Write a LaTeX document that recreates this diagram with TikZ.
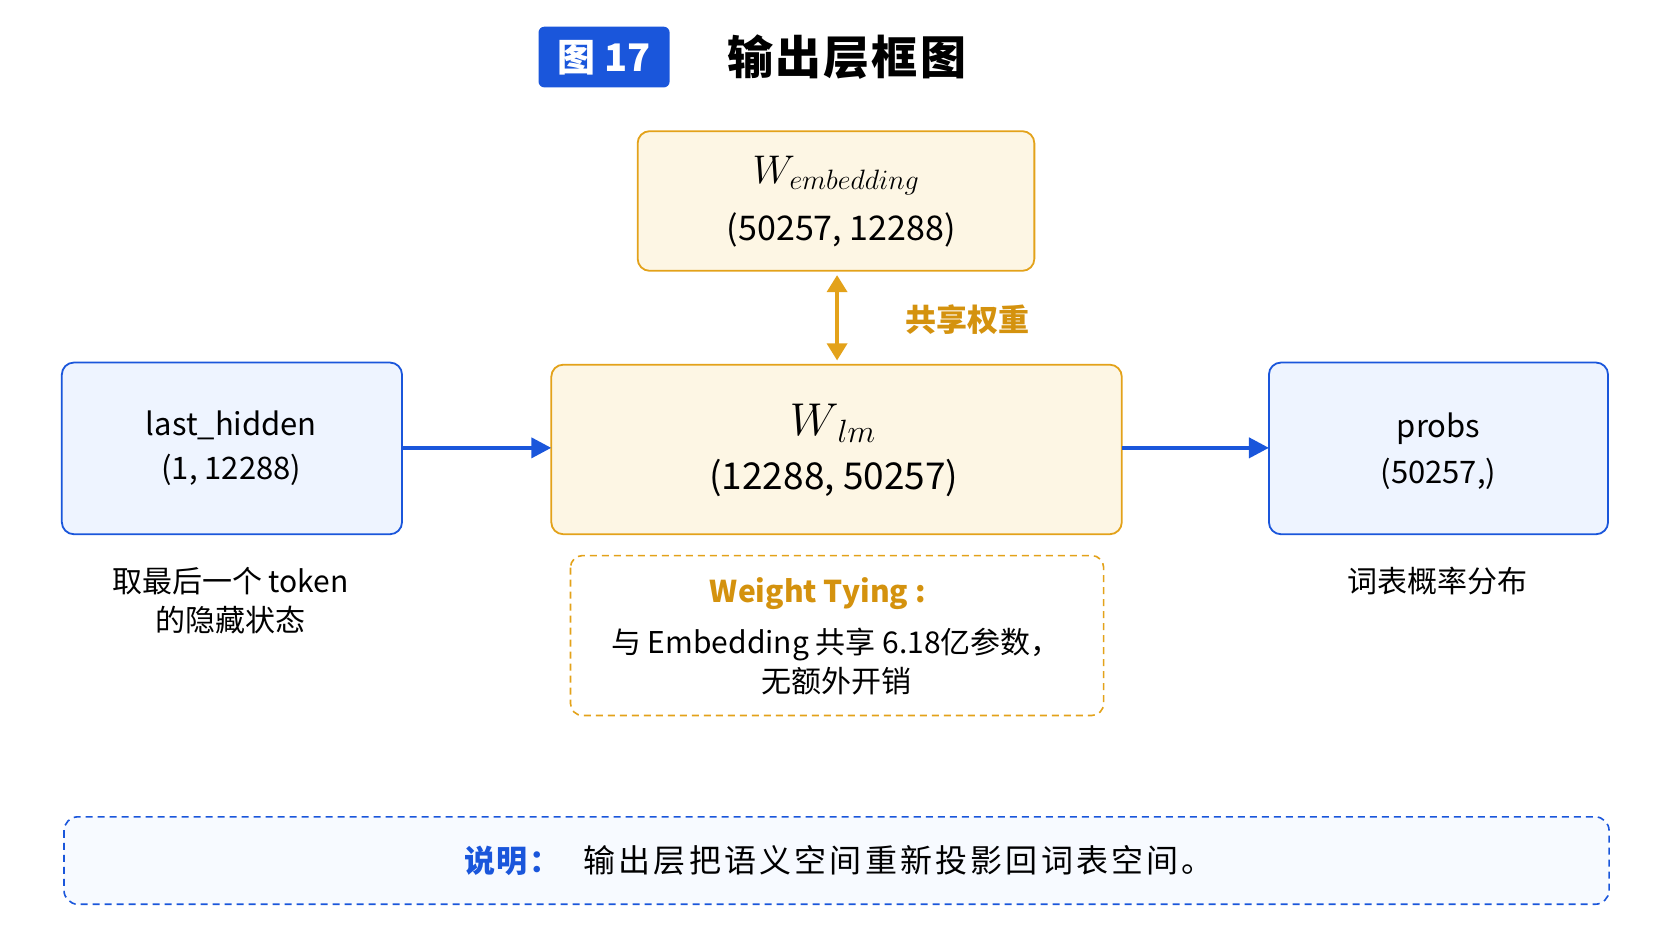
\RequirePackage{fix-cm}
\documentclass[tikz,border=0pt]{standalone}
\usepackage{fontspec}
\setmainfont{Noto Sans CJK SC}
\usetikzlibrary{arrows.meta}
\definecolor{bl}{HTML}{1A56DB}
\definecolor{blf}{HTML}{EEF4FF}
\definecolor{og}{HTML}{E3A21A}
\definecolor{ogt}{HTML}{D4920E}
\definecolor{ogf}{HTML}{FDF6E4}
\definecolor{bbf}{HTML}{F7FAFF}
\begin{document}
\begin{tikzpicture}[x=1.0663pt,y=-1.0663pt,
  bbox/.style={draw=bl,line width=1.8pt,fill=blf,rounded corners=12pt},
  obox/.style={draw=og,line width=1.8pt,fill=ogf,rounded corners=12pt},
  arr/.style={-{Triangle[length=20pt,width=20pt]},draw=bl,line width=4pt},
  t/.style={font=\fontsize{31}{40}\selectfont,align=center,inner sep=0}]
\useasboundingbox (0,0) rectangle (1568,882.5);
% title
\fill[bl,rounded corners=6pt] (505,25) rectangle (628,82);
\node[t,text=white,font=\fontsize{38}{40}\selectfont\bfseries] (badge) at (566.5,54) {图 17};
\node[t,font=\fontsize{46}{50}\selectfont\bfseries\addfontfeature{LetterSpace=5}] (title) at (794,54) {输出层框图};
% boxes
\draw[obox] (598,123) rectangle (970,254);
\coordinate (embT) at (784,254);
\node[t,font=\fontsize{40}{40}\selectfont] (emb1) at (784,165) {$W_{embedding}$};
\node[t,font=\fontsize{34}{40}\selectfont] (emb2) at (789,216) {(50257, 12288)};
\draw[obox] (517,342) rectangle (1052,501);
\coordinate (lmL) at (517,420); \coordinate (lmR) at (1052,420); \coordinate (lmT) at (784,342);
\node[t,font=\fontsize{46}{48}\selectfont] (lm1) at (781,397) {$W_{\,lm}$};
\node[t,font=\fontsize{37}{40}\selectfont] (lm2) at (782,448) {(12288, 50257)};
\draw[bbox] (58,340) rectangle (377,501);
\coordinate (lhR) at (377,420);
\node[t] (lh1) at (217,399) {last\_hidden};
\node[t] (lh2) at (217,441) {(1, 12288)};
\draw[bbox] (1190,340) rectangle (1508,501);
\coordinate (prL) at (1190,420);
\node[t] (pr1) at (1349,402) {probs};
\node[t] (pr2) at (1349,444) {(50257,)};
% arrows
\draw[arr] (lhR) -- (lmL);
\draw[arr] (lmR) -- (prL);
\draw[{Triangle[length=17pt,width=20pt]}-{Triangle[length=17pt,width=20pt]},draw=og,line width=3.5pt] (785,258) -- (785,338);
\node[t,text=ogt,font=\fontsize{31}{40}\selectfont\bfseries] (share) at (907,300) {共享权重};
% captions
\node[t,font=\fontsize{30}{39}\selectfont] (capL) at (216,563) {取最后一个 token\\的隐藏状态};
\node[t,font=\fontsize{30}{39}\selectfont] (capR) at (1348,545) {词表概率分布};
\draw[og,line width=1.6pt,dash pattern=on 7pt off 5pt,rounded corners=12pt] (535,521) rectangle (1035,671);
\node[t,text=ogt,font=\fontsize{30}{38}\selectfont\bfseries] (wt) at (767,557) {Weight Tying :};
\node[t,font=\fontsize{30}{39}\selectfont] (wt2) at (784,620) {与 Embedding 共享 6.18亿参数，\\无额外开销};
% bottom note
\draw[bl,fill=bbf,line width=1.6pt,dash pattern=on 7pt off 5pt,rounded corners=14pt] (60,766) rectangle (1509,848);
\node[t,anchor=west,text=bl,font=\fontsize{31}{40}\selectfont\bfseries\addfontfeature{LetterSpace=6}] (n1) at (435,807) {说明：};
\node[t,anchor=west,font=\fontsize{32}{40}\selectfont\addfontfeature{LetterSpace=10}] (n2) at (547,807) {输出层把语义空间重新投影回词表空间。};
\end{tikzpicture}
\end{document}
